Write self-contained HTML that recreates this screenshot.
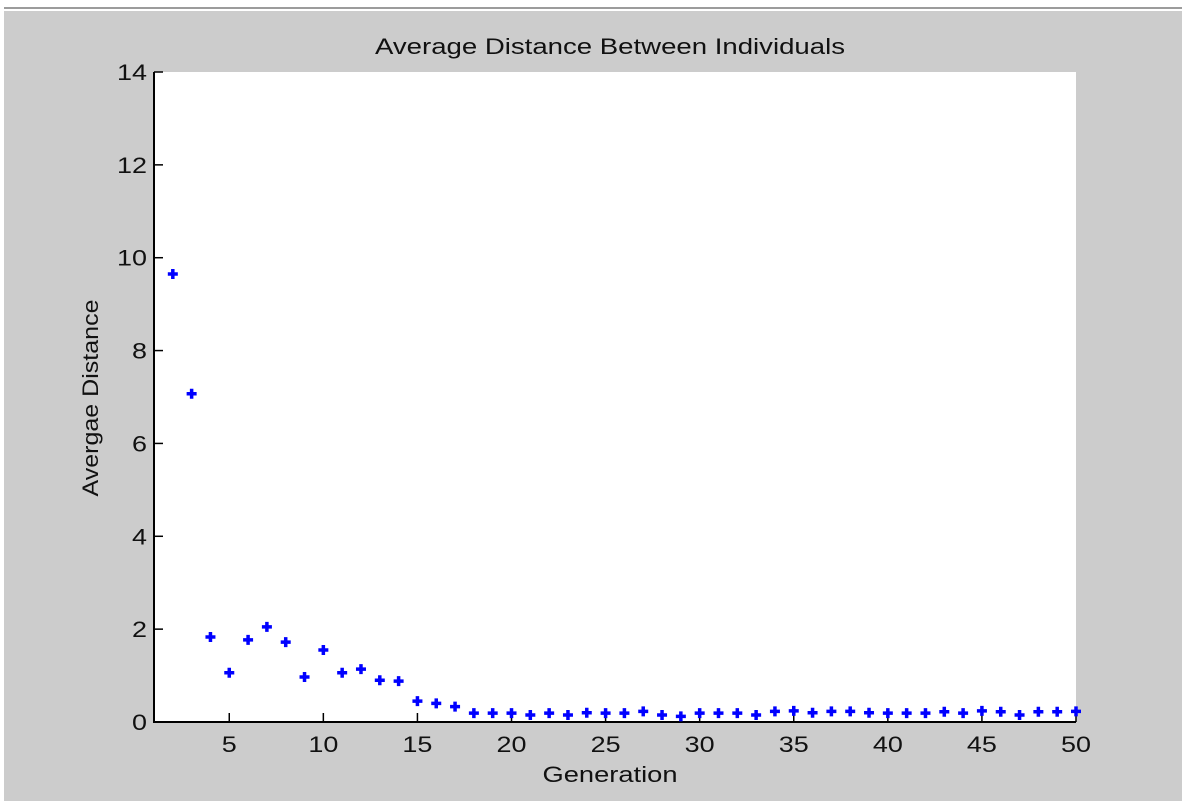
<!DOCTYPE html>
<html><head><meta charset="utf-8"><style>
body{margin:0;background:#fff;}
svg text{font-family:"Liberation Sans",sans-serif;}
</style></head><body>
<svg width="1182" height="801">
<rect x="0" y="0" width="1182" height="801" fill="#fff"/>
<rect x="4" y="7" width="1178" height="2" fill="#9c9c9c"/>
<rect x="4" y="11" width="1178" height="790" fill="#cccccc"/>
<rect x="154" y="72" width="922" height="650" fill="#fff"/>
<g id="axes"></g>
<g id="points"></g>
<text x="610" y="54" font-size="22" text-anchor="middle" textLength="470" lengthAdjust="spacingAndGlyphs" fill="#111">Average Distance Between Individuals</text>
<text x="610" y="782" font-size="22" text-anchor="middle" textLength="135" lengthAdjust="spacingAndGlyphs" fill="#111">Generation</text>
<text x="98" y="398" font-size="22" text-anchor="middle" textLength="197" lengthAdjust="spacingAndGlyphs" fill="#111" transform="rotate(-90 98 398)">Avergae Distance</text>
</svg>
<script>
const generations=[2,3,4,5,6,7,8,9,10,11,12,13,14,15,16,17,18,19,20,21,22,23,24,25,26,27,28,29,30,31,32,33,34,35,36,37,38,39,40,41,42,43,44,45,46,47,48,49,50];
const distances=[9.65,7.07,1.83,1.06,1.77,2.05,1.72,0.97,1.55,1.06,1.14,0.9,0.88,0.45,0.4,0.33,0.19,0.19,0.19,0.15,0.19,0.15,0.2,0.19,0.19,0.23,0.15,0.12,0.19,0.19,0.19,0.15,0.23,0.24,0.2,0.23,0.23,0.2,0.19,0.19,0.19,0.22,0.19,0.24,0.22,0.15,0.22,0.22,0.23];
const xTicks=[5,10,15,20,25,30,35,40,45,50];
const yTicks=[0,2,4,6,8,10,12,14];
const X0=154,X1=1076,Y0=722,Y1=72;
const xs=v=>X0+(v-1)/(50-1)*(X1-X0);
const ys=v=>Y0-v/14*(Y0-Y1);
const NS="http://www.w3.org/2000/svg";
const ax=document.getElementById('axes'),pt=document.getElementById('points');
function mk(tag,attrs,parent){const e=document.createElementNS(NS,tag);for(const k in attrs)e.setAttribute(k,attrs[k]);parent.appendChild(e);return e;}
let l=mk('line',{x1:X0,y1:Y1,x2:X0,y2:Y0+1,stroke:'#000','stroke-width':2},ax);


l=mk('line',{x1:X0,y1:Y0,x2:X1,y2:Y0,stroke:'#000','stroke-width':2},ax);


xTicks.forEach(t=>{const x=xs(t);
 const tk=mk('line',{x1:x,y1:Y0,x2:x,y2:Y0-9,stroke:'#000','stroke-width':1.5},ax);
 
 
 const s=String(t);
 const tx=mk('text',{x:x,y:Y0+30,'font-size':22,'text-anchor':'middle',fill:'#111',textLength:s.length*15,lengthAdjust:'spacingAndGlyphs'},ax);tx.textContent=s;
 
 
});
yTicks.forEach(t=>{const y=ys(t);
 const tk=mk('line',{x1:X0,y1:y,x2:X0+9,y2:y,stroke:'#000','stroke-width':1.5},ax);
 
 
 const s=String(t);
 const tx=mk('text',{x:X0-7,y:y+8,'font-size':22,'text-anchor':'end',fill:'#111',textLength:s.length*15,lengthAdjust:'spacingAndGlyphs'},ax);tx.textContent=s;
 
 
});
generations.forEach((g,i)=>{const x=xs(g),y=ys(distances[i]);
 const p=mk('path',{d:`M${x-5},${y}L${x+5},${y}M${x},${y-5}L${x},${y+5}`,stroke:'#0000ff','stroke-width':3.5},pt);
 
 
});
</script>
</body></html>
